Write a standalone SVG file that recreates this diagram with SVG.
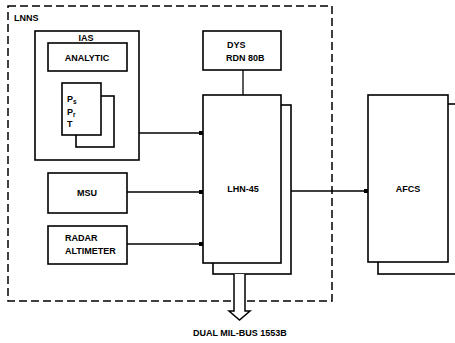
<svg xmlns="http://www.w3.org/2000/svg" width="455" height="343" viewBox="0 0 455 343">
<style>
.b{fill:#fff;stroke:#000;stroke-width:1.6}
.c{fill:none;stroke:#000;stroke-width:1.3}
.t{font-family:"Liberation Sans",Arial,sans-serif;font-weight:bold;font-size:9px;fill:#000}
.m{text-anchor:middle}
.s{font-size:6.5px}
</style>
<defs>
<marker id="sq" markerWidth="4" markerHeight="4" refX="4" refY="2" orient="auto" markerUnits="userSpaceOnUse">
<rect x="0" y="0" width="4" height="4" fill="#000"/>
</marker>
</defs>
<rect width="455" height="343" fill="#fff"/>
<g id="lnns">
<rect x="8" y="6" width="324" height="295" fill="none" stroke="#000" stroke-width="1.5" stroke-dasharray="8,4"/>
<text class="t" x="14" y="21">LNNS</text>
</g>
<g id="ias">
<rect class="b" x="35" y="31" width="104" height="129"/>
<text class="t m" x="86" y="41">IAS</text>
</g>
<g id="analytic">
<rect class="b" x="48" y="43" width="79" height="28"/>
<text class="t m" x="87" y="61">ANALYTIC</text>
</g>
<g id="sensors">
<rect class="b" x="76" y="96" width="38" height="51"/>
<rect class="b" x="62" y="83" width="39" height="52"/>
<text class="t" x="67" y="102">P<tspan class="s" dy="2">s</tspan></text>
<text class="t" x="67" y="115">P<tspan class="s" dy="2">r</tspan></text>
<text class="t" x="67" y="127">T</text>
</g>
<g id="dys">
<rect class="b" x="203" y="31" width="78" height="39"/>
<text class="t" x="227" y="48">DYS</text>
<text class="t" x="226" y="61">RDN 80B</text>
</g>
<g id="lhn45">
<rect class="b" x="213" y="105" width="78" height="169"/>
<rect class="b" x="203" y="95" width="78" height="168"/>
<text class="t m" x="243" y="192">LHN-45</text>
</g>
<g id="msu">
<rect class="b" x="48" y="173" width="79" height="40"/>
<text class="t m" x="87" y="196">MSU</text>
</g>
<g id="radar">
<rect class="b" x="48" y="226" width="79" height="38"/>
<text class="t" x="65" y="241">RADAR</text>
<text class="t" x="65" y="254">ALTIMETER</text>
</g>
<g id="afcs">
<rect class="b" x="378" y="104" width="82" height="170"/>
<rect class="b" x="368" y="95" width="80" height="167"/>
<text class="t m" x="408" y="192">AFCS</text>
</g>
<g id="connectors">
<line class="c" x1="139" y1="133" x2="203" y2="133" marker-end="url(#sq)"/>
<line class="c" x1="243" y1="70" x2="243" y2="95"/>
<line class="c" x1="127" y1="192" x2="203" y2="192" marker-end="url(#sq)"/>
<line class="c" x1="127" y1="244" x2="203" y2="244" marker-end="url(#sq)"/>
<line class="c" x1="291" y1="191" x2="368" y2="191" marker-end="url(#sq)"/>
<path d="M234,274 V311 H229 L239.5,320 L250,311 H245 V274" fill="#fff" stroke="#000" stroke-width="1.5"/>
</g>
<text class="t" x="193" y="336">DUAL MIL-BUS 1553B</text>
</svg>
